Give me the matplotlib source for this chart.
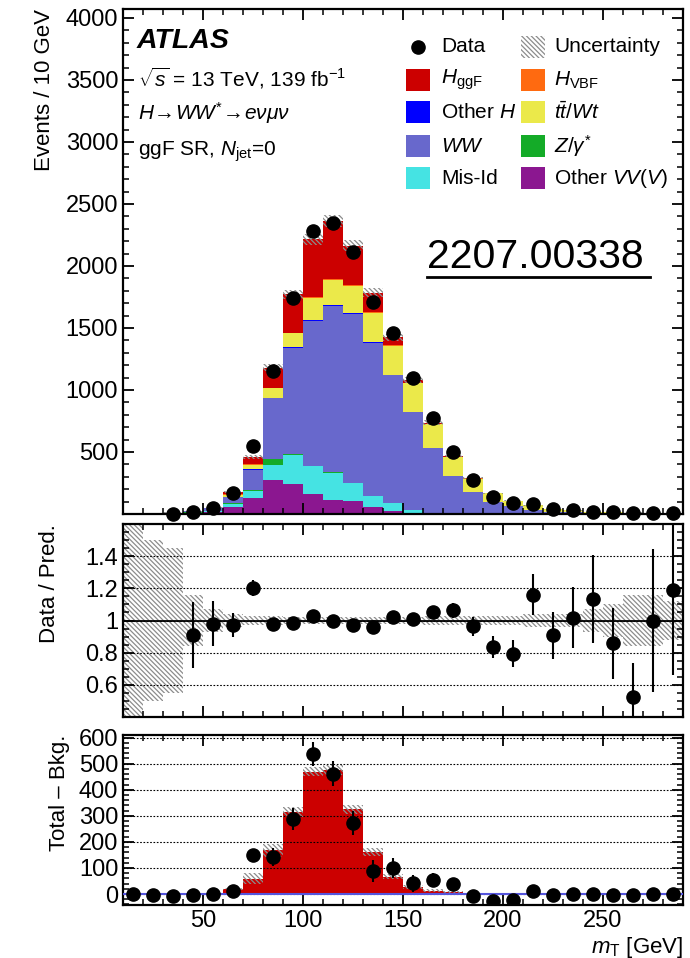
import numpy as np
import matplotlib
matplotlib.use("Agg")
import matplotlib.pyplot as plt
from matplotlib.patches import Rectangle
from matplotlib.lines import Line2D
from matplotlib.ticker import MultipleLocator, FixedLocator

plt.rcParams['font.family'] = ['Liberation Sans', 'DejaVu Sans']
plt.rcParams['mathtext.fontset'] = 'custom'
plt.rcParams['mathtext.rm'] = 'Liberation Sans'
plt.rcParams['mathtext.it'] = 'Liberation Sans:italic'
plt.rcParams['mathtext.bf'] = 'Liberation Sans:bold'
plt.rcParams['hatch.linewidth'] = 0.9

# m_T bins, 10 GeV wide, 10..290
edges = np.arange(10, 300, 10)
centers = edges[:-1] + 5

# stacked backgrounds + signals (events / bin)
other_vv = [0.2, 0.6, 3, 8, 15, 54, 126, 274, 242, 161, 113, 102, 54, 27, 10, 5, 2, 1, 0.5, 0.3, 0.2, 0.2, 0.1, 0.1, 0.1, 0, 0, 0]
mis_id   = [0.1, 0.4, 2, 4, 8, 27, 59, 121, 234, 226, 220, 145, 91, 59, 20, 5, 1, 0.5, 0.5, 0.3, 0.2, 0.2, 0.1, 0.1, 0, 0, 0, 0]
z_gamma  = [0, 0, 0, 0.5, 2, 5, 5, 46, 8, 3, 2, 2, 1, 1, 0.5, 0, 0, 0, 0, 0, 0, 0, 0, 0, 0, 0, 0, 0]
ww       = [0.2, 0.8, 3, 8, 20, 49, 165, 492, 857, 1169, 1342, 1364, 1236, 1034, 790, 520, 303, 178, 97, 62, 32, 19, 12, 8, 10, 7, 3, 3]
other_h  = [0, 0, 0, 0, 0.5, 2, 4, 5, 6, 6, 6, 5, 4, 3, 2, 1, 1, 0.5, 0.5, 0.3, 0.2, 0.2, 0.1, 0.1, 0.1, 0.1, 0, 0]
top_wt   = [0, 0.2, 0.5, 1.5, 5, 20, 40, 75, 110, 180, 204, 221, 238, 234, 231, 193, 153, 106, 68, 45, 36, 21, 16, 6.7, 7.3, 4.4, 2, 1.2]
h_vbf    = [0, 0, 0, 0, 0, 1, 2, 3, 4, 5, 5, 5, 4, 3, 2, 1, 0.5, 0.5, 0, 0, 0, 0, 0, 0, 0, 0, 0, 0]
h_ggf    = [0, 0, 0, 0, 0.5, 17, 57, 165, 311, 465, 471, 320, 157, 64, 26, 12, 7, 2, 1, 0.5, 0.3, 0.2, 0.2, 0, 0, 0, 0, 0]

data = [0, 0, 0, 20, 50, 170, 550, 1156, 1745, 2282, 2349, 2110, 1712, 1457, 1094, 777, 497, 278, 140, 86, 80, 37, 29, 17, 15, 6, 5, 5]

# relative uncertainty on total prediction
rel_unc = [1.0, 0.5, 0.45, 0.16, 0.07, 0.04, 0.03, 0.025, 0.02, 0.02, 0.02, 0.02, 0.02, 0.02, 0.02,
           0.025, 0.025, 0.03, 0.03, 0.03, 0.04, 0.04, 0.04, 0.07, 0.1, 0.16, 0.16, 0.12]
# absolute uncertainty on the signal (bottom panel)
sig_unc = [0, 0, 0, 0, 0, 4, 20, 25, 20, 18, 18, 18, 15, 10, 8, 5, 3, 1, 0, 0, 0, 0, 0, 0, 0, 0, 0, 0]

stack = [
    (other_vv, '#8b1790'),
    (mis_id, '#45e3e3'),
    (z_gamma, '#14ab28'),
    (ww, '#6868cc'),
    (other_h, '#0000ff'),
    (top_wt, '#ebe94a'),
    (h_vbf, '#ff6a10'),
    (h_ggf, '#cc0000'),
]

data = np.array(data, float)
rel_unc = np.array(rel_unc)
pred = np.sum([np.array(v, float) for v, c in stack], axis=0)
signal = np.array(h_ggf) + np.array(h_vbf)
bkg = pred - signal
data_err = np.sqrt(data)

W, H = 690, 958
fig = plt.figure(figsize=(W / 100, H / 100), dpi=100)


def box(x0, y0, x1, y1):
    return [x0 / W, 1 - y1 / H, (x1 - x0) / W, (y1 - y0) / H]


ax1 = fig.add_axes(box(123, 9, 683, 514))
ax2 = fig.add_axes(box(123, 524, 683, 717))
ax3 = fig.add_axes(box(123, 735, 683, 905))

hatch_col = '#8c8c8c'
hatch = '\\\\\\\\\\\\\\'

# ---- main panel
base = np.zeros(len(centers))
for vals, col in stack:
    top = base + np.array(vals, float)
    ax1.stairs(top, edges, baseline=base, fill=True, color=col, lw=0)
    base = top
ax1.bar(centers, 2 * pred * rel_unc, bottom=pred * (1 - rel_unc), width=10,
        fill=False, hatch=hatch, edgecolor=hatch_col, lw=0)
ax1.errorbar(centers[2:], data[2:], yerr=data_err[2:], fmt='o', color='k',
             ms=9.5, elinewidth=1.5, capsize=0, clip_on=False, zorder=5)
ax1.set_ylim(0, 4072)
ax1.yaxis.set_major_locator(FixedLocator(np.arange(500, 4001, 500)))
ax1.yaxis.set_minor_locator(MultipleLocator(100))
ax1.set_ylabel('Events / 10 GeV', fontsize=16, loc='top', labelpad=8)

# ---- ratio panel
ax2.bar(centers, 2 * rel_unc, bottom=1 - rel_unc, width=10,
        fill=False, hatch=hatch, edgecolor=hatch_col, lw=0)
ok = data > 0
ratio = data[ok] / pred[ok]
ratio_err = data_err[ok] / pred[ok]
ax2.axhline(1, color='k', lw=1.3)
ax2.errorbar(centers[ok], ratio, yerr=ratio_err, fmt='o', color='k',
             ms=9.5, elinewidth=1.5, capsize=0, zorder=5)
ax2.set_ylim(0.4, 1.6)
ax2.yaxis.set_major_locator(FixedLocator([0.6, 0.8, 1.0, 1.2, 1.4]))
ax2.set_yticklabels(['0.6', '0.8', '1', '1.2', '1.4'])
ax2.yaxis.set_minor_locator(MultipleLocator(0.05))
ax2.yaxis.grid(True, ls=(0, (1.5, 1.5)), color='k', lw=0.8)
ax2.set_ylabel('Data / Pred.', fontsize=16, loc='top', labelpad=18)

# ---- signal panel
ax3.stairs(signal, edges, baseline=0, fill=True, color='#cc0000', lw=0)
ax3.bar(centers, 2 * np.array(sig_unc), bottom=signal - np.array(sig_unc), width=10,
        fill=False, hatch=hatch, edgecolor=hatch_col, lw=0)
ax3.axhline(0, color='#5555dd', lw=1.5, zorder=3)
ax3.errorbar(centers, data - bkg, yerr=data_err, fmt='o', color='k',
             ms=9.5, elinewidth=1.5, capsize=0, zorder=5)
ax3.set_ylim(-42, 610)
ax3.yaxis.set_major_locator(FixedLocator(np.arange(0, 601, 100)))
ax3.yaxis.set_minor_locator(MultipleLocator(20))
ax3.yaxis.grid(True, ls=(0, (1.5, 1.5)), color='k', lw=0.8)
ax3.set_ylabel('Total \u2013 Bkg.', fontsize=16, loc='top', labelpad=6)
ax3.set_xlabel(r'$m_{\rm T}$ [GeV]', fontsize=16, loc='right', labelpad=2)

for ax in (ax1, ax2, ax3):
    ax.set_xlim(10, 290)
    ax.xaxis.set_major_locator(MultipleLocator(50))
    ax.xaxis.set_minor_locator(MultipleLocator(10))
    ax.tick_params(which='both', direction='in', top=True, right=True, labelsize=17)
    ax.tick_params(which='major', length=8, width=1.3)
    ax.tick_params(which='minor', length=4, width=1.1)
    for s in ax.spines.values():
        s.set_linewidth(1.6)
    ax.set_axisbelow(False)
for ax in (ax1, ax2):
    ax.tick_params(labelbottom=False)

# ---- labels and legend (pixel coords)
def fxy(px, py):
    return px / W, 1 - py / H


fig.text(*fxy(137, 41), 'ATLAS', fontsize=20.5, fontweight='bold', fontstyle='italic', va='center')
fig.text(*fxy(138, 78), r'$\sqrt{s}$ = 13 TeV, 139 fb$^{-1}$', fontsize=15, va='center')
fig.text(*fxy(138, 113), r'$H\!\rightarrow\!WW^{*}\!\rightarrow\!e\nu\mu\nu$', fontsize=15, va='center')
fig.text(*fxy(138, 152), r'ggF SR, $N_{\rm jet}$=0', fontsize=15, va='center')

rows = [47, 80, 112, 146, 178]
col1 = [None, ('#cc0000', r'$H_{\rm ggF}$'), ('#0000ff', 'Other $H$'),
        ('#6868cc', '$WW$'), ('#45e3e3', 'Mis-Id')]
col2 = [None, ('#ff6a10', r'$H_{\rm VBF}$'), ('#ebe94a', r'$t\bar{t}/Wt$'),
        ('#14ab28', r'$Z/\gamma^{*}$'), ('#8b1790', 'Other $VV$($V$)')]

fig.add_artist(Line2D([418 / W], [1 - 47 / H], marker='o', color='k', ms=9.5,
                      transform=fig.transFigure))
fig.text(*fxy(441, 47), 'Data', fontsize=15, va='center')
fig.add_artist(Rectangle(fxy(521, 58), 24 / W, 22 / H, transform=fig.transFigure,
                         fill=False, hatch=hatch, edgecolor=hatch_col, lw=0))
fig.text(*fxy(554, 47), 'Uncertainty', fontsize=15, va='center')
for y, e1, e2 in zip(rows, col1, col2):
    if e1 is None:
        continue
    fig.add_artist(Rectangle(fxy(406, y + 11), 24 / W, 22 / H, transform=fig.transFigure,
                             color=e1[0], lw=0))
    fig.text(*fxy(441, y), e1[1], fontsize=15, va='center')
    fig.add_artist(Rectangle(fxy(521, y + 11), 24 / W, 22 / H, transform=fig.transFigure,
                             color=e2[0], lw=0))
    fig.text(*fxy(554, y), e2[1], fontsize=15, va='center')

fig.text(*fxy(427, 268), '2207.00338', fontsize=29.5, va='baseline')
fig.add_artist(Line2D([427 / W, 650 / W], [1 - 277 / H, 1 - 277 / H], color='k', lw=2,
                      transform=fig.transFigure))

fig.savefig('out.png', dpi=100)
